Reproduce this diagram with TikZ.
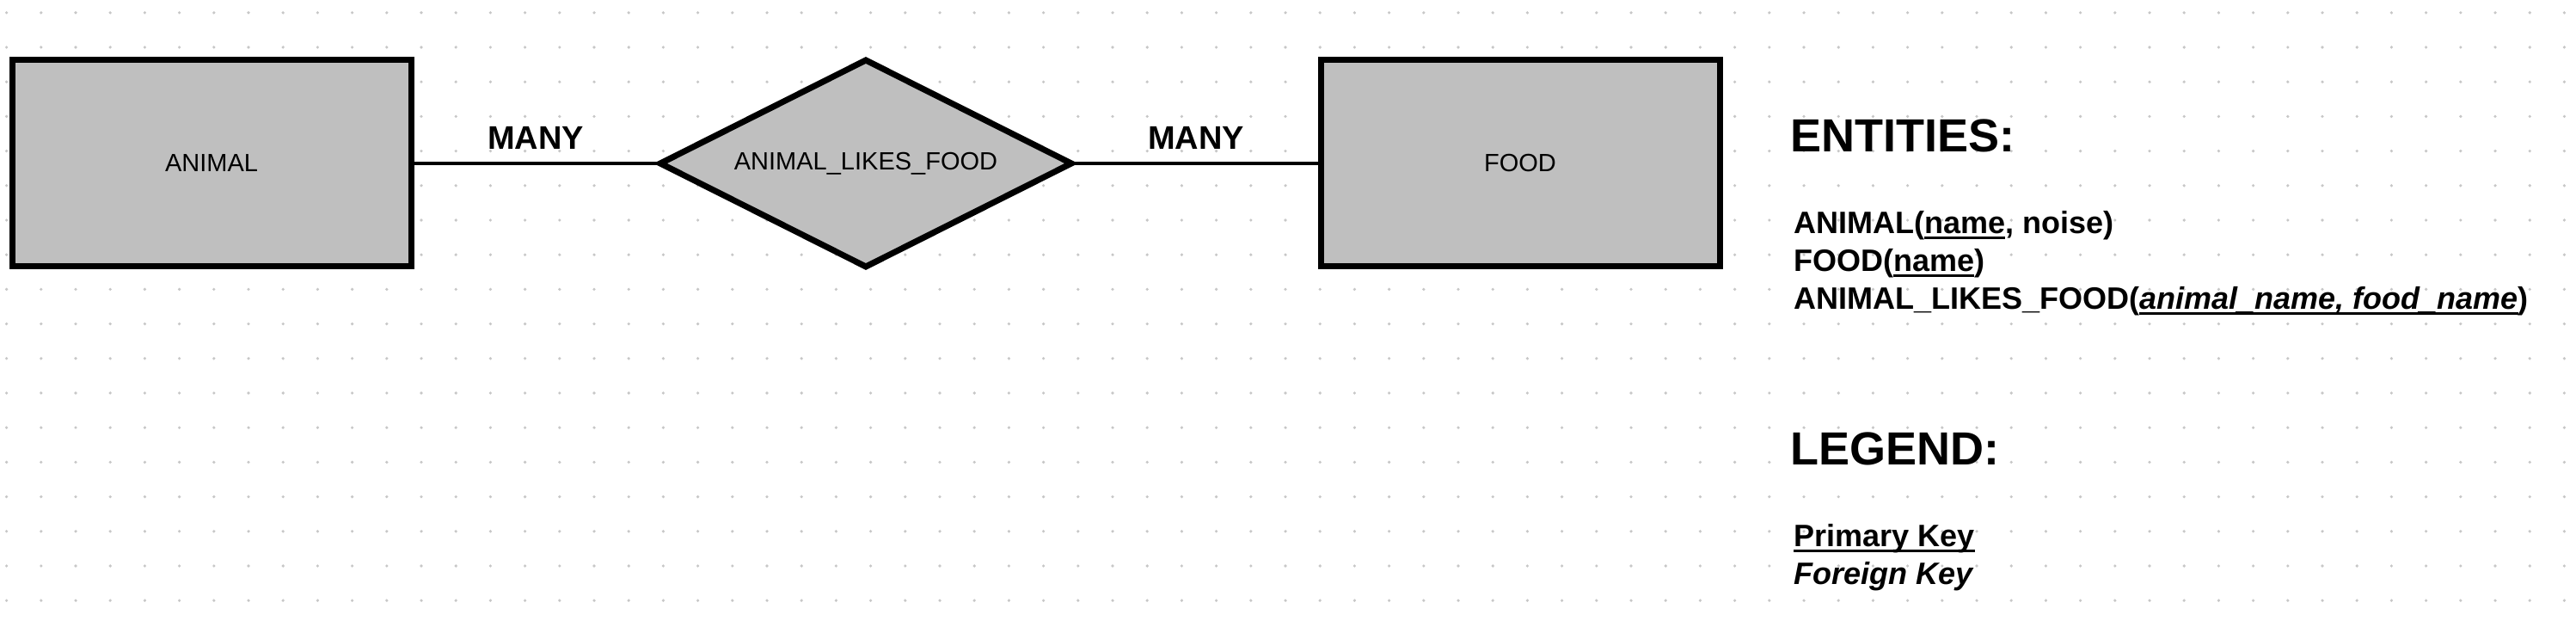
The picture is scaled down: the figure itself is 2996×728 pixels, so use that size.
\documentclass[tikz,border=0pt]{standalone}
\usepackage{fontspec}
\setmainfont{Liberation Sans}
\usetikzlibrary{positioning, shapes.geometric}

\newsavebox\keybox
\newcommand{\keyline}[1]{\sbox\keybox{#1}\rlap{\rule[-3.5pt]{\wd\keybox}{1.5pt}}\usebox\keybox}

\begin{document}
\begin{tikzpicture}[
    x=0.5pt, y=0.5pt,
    entity/.style={
        rectangle, draw=black, fill=black!25, line width=3.5pt,
        minimum width=232pt, minimum height=120pt,
        inner sep=0pt, outer sep=0pt, font=\fontsize{14.5}{17}\selectfont
    },
    relation/.style={
        diamond, aspect=2, draw=black, fill=black!25, line width=3.5pt,
        minimum width=239pt, minimum height=120pt,
        inner sep=0pt, outer sep=0pt, font=\fontsize{14.5}{17}\selectfont
    },
    link/.style={line width=2pt, draw=black},
    card/.style={above=7pt, inner sep=0pt, font=\fontsize{19}{22}\selectfont\bfseries},
    heading/.style={anchor=base west, inner sep=0pt, font=\fontsize{27}{32}\selectfont\bfseries},
    keylist/.style={align=left, inner sep=0pt, font=\fontsize{18}{22}\selectfont\bfseries},
]

% dotted canvas
\useasboundingbox (0,0) rectangle (2996,728);
\foreach \i in {0,...,74}
  \foreach \j in {0,...,17}
    \fill[black!22] (7.6+40.2*\i, 713.2-40.2*\j) circle (0.9pt);

% ER diagram
\node[entity] (animal) at (246,538) {ANIMAL};
\node[relation, right=145pt of animal] (likes) {ANIMAL\_LIKES\_FOOD};
\node[entity, right=145pt of likes] (food) {FOOD};

\draw[link] (animal.east) -- node[card] {MANY} (likes.west);
\draw[link] (likes.east) -- node[card] {MANY} (food.west);

% schema
\node[heading] (entities) at (2082,551) {ENTITIES:};
\node[keylist, below right=33.5pt and 2pt of entities.south west] (tables) {
    ANIMAL(\keyline{name}, noise)\\
    FOOD(\keyline{name})\\
    ANIMAL\_LIKES\_FOOD(\keyline{\itshape animal\_name, food\_name})
};

% legend
\node[heading] (legend) at (2082,187) {LEGEND:};
\node[keylist, below right=33.5pt and 2pt of legend.south west] (keys) {
    \keyline{Primary Key}\\
    \textit{Foreign Key}
};

\end{tikzpicture}
\end{document}
